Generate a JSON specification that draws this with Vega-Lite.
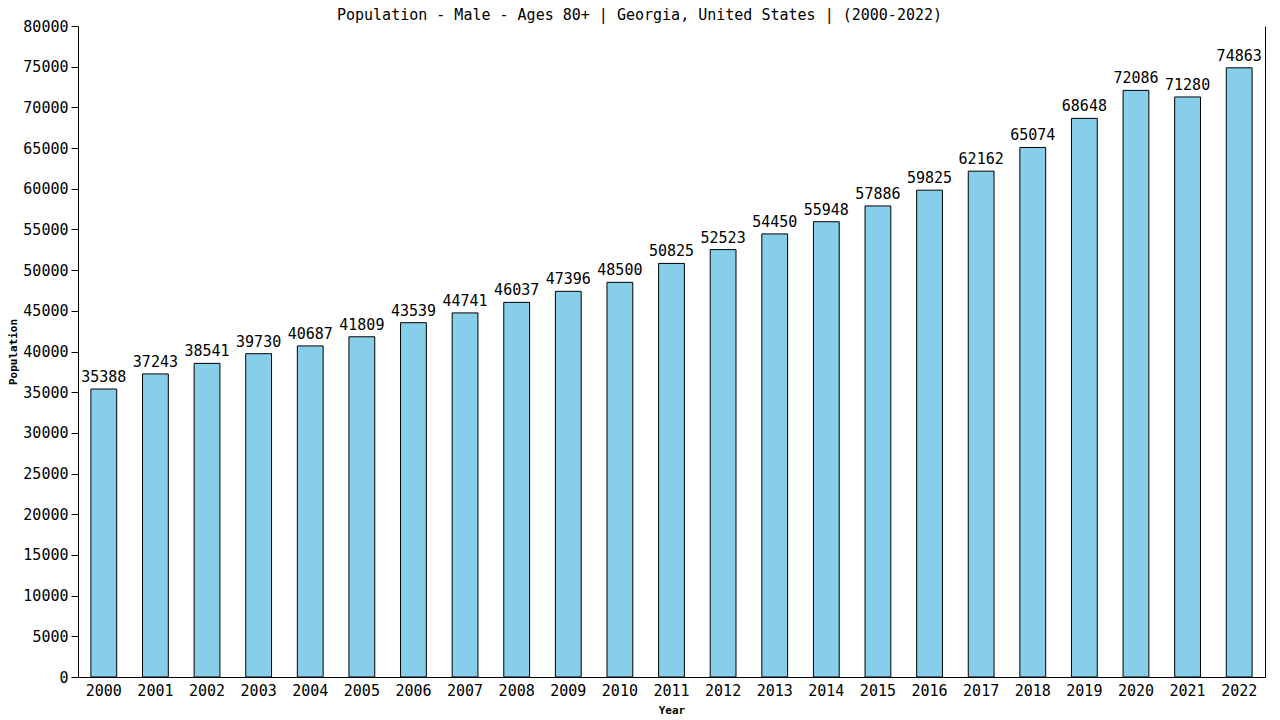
{
  "$schema": "https://vega.github.io/schema/vega-lite/v6.json",
  "width": 1187,
  "height": 651,
  "autosize": {"type": "none"},
  "padding": {"left": 78, "top": 26, "right": 15, "bottom": 43},
  "background": "white",
  "config": {
    "font": "DejaVu Sans Mono",
    "view": {"stroke": null},
    "axis": {"labelFont": "DejaVu Sans Mono", "titleFont": "DejaVu Sans Mono", "labelColor": "black", "titleColor": "black", "domainColor": "black", "tickColor": "black", "grid": false}
  },
  "title": {
    "text": "Population - Male - Ages 80+ | Georgia, United States |  (2000-2022)",
    "font": "DejaVu Sans Mono",
    "fontSize": 15,
    "fontWeight": "normal",
    "color": "black",
    "anchor": "middle",
    "frame": "group",
    "dx": -32,
    "offset": -4
  },
  "data": {
    "values": [
      {"year": "2000", "population": 35388},
      {"year": "2001", "population": 37243},
      {"year": "2002", "population": 38541},
      {"year": "2003", "population": 39730},
      {"year": "2004", "population": 40687},
      {"year": "2005", "population": 41809},
      {"year": "2006", "population": 43539},
      {"year": "2007", "population": 44741},
      {"year": "2008", "population": 46037},
      {"year": "2009", "population": 47396},
      {"year": "2010", "population": 48500},
      {"year": "2011", "population": 50825},
      {"year": "2012", "population": 52523},
      {"year": "2013", "population": 54450},
      {"year": "2014", "population": 55948},
      {"year": "2015", "population": 57886},
      {"year": "2016", "population": 59825},
      {"year": "2017", "population": 62162},
      {"year": "2018", "population": 65074},
      {"year": "2019", "population": 68648},
      {"year": "2020", "population": 72086},
      {"year": "2021", "population": 71280},
      {"year": "2022", "population": 74863}
    ]
  },
  "encoding": {
    "x": {
      "field": "year",
      "type": "ordinal",
      "title": "Year",
      "scale": {"paddingInner": 0.5, "paddingOuter": 0.25},
      "axis": {"labelAngle": 0, "labelFontSize": 15, "ticks": false, "labelPadding": 6, "titleFontSize": 11, "titleFontWeight": "bold", "titlePadding": 6}
    }
  },
  "layer": [
    {
      "mark": {"type": "bar", "fill": "#87CEEB", "stroke": "black", "strokeWidth": 1},
      "encoding": {
        "y": {
          "field": "population",
          "type": "quantitative",
          "title": "Population",
          "scale": {"domain": [0, 80000], "nice": false},
          "axis": {"values": [0, 5000, 10000, 15000, 20000, 25000, 30000, 35000, 40000, 45000, 50000, 55000, 60000, 65000, 70000, 75000, 80000], "format": "d", "labelFontSize": 15, "tickSize": 7, "labelPadding": 3, "titleFontSize": 11, "titleFontWeight": "bold", "titlePadding": 4}
        }
      }
    },
    {
      "mark": {"type": "text", "fontSize": 15, "baseline": "bottom", "dy": -4, "color": "black"},
      "encoding": {
        "text": {"field": "population", "type": "quantitative", "format": "d"},
        "y": {
          "field": "population",
          "type": "quantitative",
          "scale": {"domain": [0, 80000], "nice": false},
          "axis": {"orient": "right", "domain": true, "labels": false, "ticks": false, "title": null}
        }
      }
    }
  ],
  "resolve": {"axis": {"y": "independent"}}
}
